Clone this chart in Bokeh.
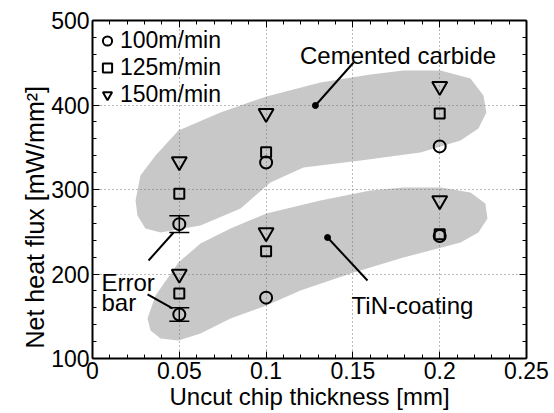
from bokeh.plotting import figure
from bokeh.models import Range1d, FixedTicker, LinearAxis, Whisker, ColumnDataSource, TeeHead, Title
from bokeh.core.properties import value
from bokeh.embed import file_html
from bokeh.resources import INLINE

FONT = "Liberation Sans"

# ---- data ----
thickness = [0.05, 0.1, 0.2]
cc_100 = [259, 332, 351]
cc_125 = [295, 344, 390]
cc_150 = [333, 390, 422]
tin_100 = [152, 172, 245]
tin_125 = [177, 227, 247]
tin_150 = [200, 249, 287]

err_x = [0.05, 0.05]
err_mid = [259, 152]
err_half = [10, 8]

x_ticks = [0, 0.05, 0.1, 0.15, 0.2, 0.25]
x_tick_labels = ["0", "0.05", "0.1", "0.15", "0.2", "0.25"]
x_minor = [round(i * 0.01, 2) for i in range(26)]
y_ticks = [100, 200, 300, 400, 500]
y_tick_labels = ["100", "200", "300", "400", "500"]
y_minor = list(range(100, 501, 20))

# region outlines (data coordinates)
cc_blob_x = [0.0248, 0.0276, 0.0363, 0.0495, 0.0737, 0.1002, 0.1313, 0.1601, 0.1791, 0.2005,
             0.2177, 0.2252, 0.2269, 0.2223, 0.2120, 0.1889, 0.1544, 0.1215, 0.1025, 0.0853,
             0.0622, 0.0392, 0.0305, 0.0259]
cc_blob_y = [287, 316.6, 340.2, 369.8, 391.1, 410.1, 426.6, 436.1, 440.8, 440.8,
             431.4, 411.2, 391.1, 372.2, 358.0, 343.8, 334.3, 326.0, 308.3, 277.5,
             257.4, 249.1, 253.9, 269.2]
tin_blob_x = [0.0317, 0.0363, 0.0495, 0.0622, 0.0795, 0.1002, 0.1313, 0.1601, 0.1791, 0.2005,
              0.2177, 0.2263, 0.2275, 0.2223, 0.2120, 0.1791, 0.1486, 0.1198, 0.1002, 0.0795,
              0.0622, 0.0495, 0.0392, 0.0334]
tin_blob_y = [147.3, 174.6, 213.6, 236.1, 253.9, 271.6, 287.0, 298.8, 302.4, 302.4,
              296.5, 283.4, 265.7, 249.1, 237.3, 219.5, 200.6, 180.5, 162.7, 147.3,
              129.6, 121.3, 123.7, 133.1]

# annotations
ann_text = ["Cemented carbide", "TiN-coating", "Error", "bar"]
ann_tx = [0.176, 0.1843, 0.0052, 0.0052]
ann_ty = [458.6, 162.7, 190.0, 166.3]
ann_align = ["center", "center", "left", "left"]
lead_x0 = [0.1284, 0.1354, 0.0323, 0.0317]
lead_y0 = [399.4, 243.2, 216.0, 175.8]
lead_x1 = [0.1504, 0.1584, 0.0467, 0.0461]
lead_y1 = [450.3, 192.3, 249.1, 159.2]
dot_x = [0.1284, 0.1354]
dot_y = [399.4, 243.2]

p = figure(width=554, height=413, x_range=Range1d(0, 0.25), y_range=Range1d(100, 500),
           output_backend="svg", toolbar_location=None,
           min_border_left=92, min_border_right=28, min_border_top=20, min_border_bottom=55)
p.outline_line_color = None
p.background_fill_color = "white"

# blobs
for bx, by in ((cc_blob_x, cc_blob_y), (tin_blob_x, tin_blob_y)):
    r = p.patch(bx, by, fill_color="#c8c8c8", line_color=None)
    r.level = "image"

# grid
for g in (p.xgrid, p.ygrid):
    g.grid_line_color = "#777777"
    g.grid_line_dash = "1 3"
    g.grid_line_width = 1
p.xgrid.ticker = FixedTicker(ticks=x_ticks)
p.ygrid.ticker = FixedTicker(ticks=y_ticks)

# axes
xt = FixedTicker(ticks=x_ticks, minor_ticks=x_minor)
yt = FixedTicker(ticks=y_ticks, minor_ticks=y_minor)
p.xaxis.ticker = xt
p.yaxis.ticker = yt
p.xaxis.major_label_overrides = dict(zip(x_ticks, x_tick_labels))
p.yaxis.major_label_overrides = dict(zip(y_ticks, y_tick_labels))
p.xaxis.axis_label = "Uncut chip thickness [mm]"

def style_axis(ax, show_labels=True):
    ax.axis_line_width = 2
    ax.axis_line_color = "black"
    ax.major_tick_in = 7
    ax.major_tick_out = 0
    ax.minor_tick_in = 4
    ax.minor_tick_out = 0
    ax.major_tick_line_width = 1
    ax.minor_tick_line_width = 1
    ax.major_tick_line_color = "black"
    ax.minor_tick_line_color = "black"
    ax.major_label_text_font = FONT
    ax.major_label_text_color = "black"
    ax.axis_label_text_font = FONT
    ax.axis_label_text_font_style = "normal"
    ax.axis_label_text_color = "black"
    if show_labels:
        ax.major_label_text_font_size = "23px"
        ax.axis_label_text_font_size = "24px"
        ax.major_label_standoff = 3
        ax.axis_label_standoff = 1
    else:
        ax.major_label_text_font_size = "0px"
        ax.major_label_standoff = 0

for ax in p.xaxis + p.yaxis:
    style_axis(ax)

top = LinearAxis(ticker=xt)
style_axis(top, False)
top.major_label_overrides = {t: "" for t in x_ticks}
p.add_layout(top, "above")
right = LinearAxis(ticker=yt)
style_axis(right, False)
right.major_label_overrides = {t: "" for t in y_ticks}
p.add_layout(right, "right")

# y-axis title, placed lower than centre like the original
ytitle = Title(text="Net heat flux [mW/mm²]", align="left", offset=10,
               text_font=FONT, text_font_size="25px", text_font_style="normal",
               text_color="black", standoff=0)
p.add_layout(ytitle, "left")

# error bars
err_src = ColumnDataSource(dict(x=err_x,
                                upper=[m + h for m, h in zip(err_mid, err_half)],
                                lower=[m - h for m, h in zip(err_mid, err_half)]))
wh = Whisker(source=err_src, base="x", upper="upper", lower="lower", dimension="height",
             line_color="black", line_width=1.5,
             upper_head=TeeHead(size=20, line_color="black", line_width=1.5),
             lower_head=TeeHead(size=20, line_color="black", line_width=1.5))
p.add_layout(wh)

# data points
xs = thickness + thickness
p.scatter(xs, cc_100 + tin_100, marker="circle", size=12, fill_color=None,
          line_color="black", line_width=2, legend_label="100m/min")
p.scatter(xs, cc_125 + tin_125, marker="square", size=10, fill_color=None,
          line_color="black", line_width=2, legend_label="125m/min")
p.scatter(xs, cc_150 + tin_150, marker="inverted_triangle", size=15, fill_color=None,
          line_color="black", line_width=2, legend_label="150m/min")

# annotations
p.segment(lead_x0, lead_y0, lead_x1, lead_y1, line_color="black", line_width=2)
p.scatter(dot_x, dot_y, marker="circle", size=6, fill_color="black", line_color="black")
p.text(ann_tx, ann_ty, text=ann_text, text_align=ann_align, text_baseline="alphabetic",
       text_font=value(FONT), text_font_size="24px", text_color="black")

lg = p.legend[0]
lg.location = (2, 250)
lg.border_line_color = None
lg.background_fill_alpha = 0
lg.label_text_font = FONT
lg.label_text_font_size = "23px"
lg.label_text_color = "black"
lg.glyph_width = 26
lg.glyph_height = 23
lg.label_standoff = 0
lg.label_height = 20
lg.spacing = 0
lg.padding = 0
lg.margin = 0

open("out.html", "w").write(file_html(p, INLINE))
